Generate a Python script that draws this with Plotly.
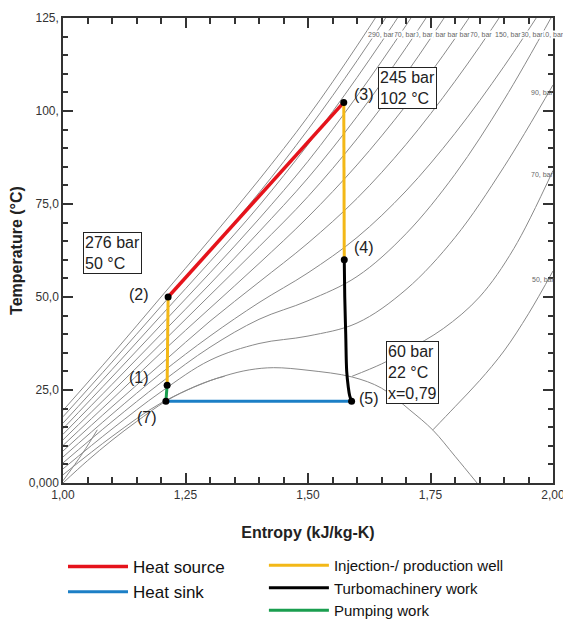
import plotly.graph_objects as go

# ---------------- data ----------------
# common entropy grid for supercritical isobars [kJ/kg-K]
s_grid = [1.0, 1.1, 1.2, 1.3, 1.4, 1.5, 1.6, 1.7, 1.8, 1.9, 2.0]
# temperatures [°C] of each isobar on that grid
T_290 = [19.5, 34.5, 50.0, 65.5, 81.5, 98.5, 117.5, 138, 160, 184, 210]
T_270 = [17.8, 32.5, 47.5, 62.5, 78.0, 95.0, 113.5, 133.5, 155, 178, 203]
T_250 = [16.1, 30.5, 45.0, 59.5, 74.5, 91.0, 109.0, 128.5, 149.5, 172, 196]
T_230 = [14.6, 28.5, 42.5, 56.5, 71.0, 86.5, 104.0, 123.0, 143.5, 165.5, 189]
T_210 = [13.1, 26.5, 40.0, 53.5, 67.5, 82.0, 98.5, 117.0, 137.0, 158.5, 181]
T_190 = [11.6, 24.5, 37.5, 50.5, 63.5, 77.0, 92.5, 110.0, 129.5, 150.5, 173]
T_170 = [10.1, 22.5, 35.0, 47.0, 59.0, 71.5, 85.5, 101.5, 119.5, 139.5, 161]
T_150 = [8.6, 20.5, 32.0, 43.5, 54.0, 64.5, 76.5, 91.0, 108.0, 127.0, 148]
T_130 = [7.0, 18.5, 29.5, 39.5, 48.5, 56.5, 66.0, 78.5, 94.0, 112.0, 132]
T_110 = [5.4, 16.5, 27.0, 36.5, 44.0, 49.0, 55.5, 67.0, 83.0, 103.0, 126]
T_90 = [3.8, 14.5, 24.5, 33.0, 37.5, 39.5, 43.0, 52.0, 66.0, 85.0, 107]

# subcritical isobars: liquid branch and vapour branch
s_70_liq = [1.0, 1.1, 1.2, 1.3, 1.33]
T_70_liq = [2.2, 12.5, 21.5, 27.5, 28.7]
s_70_vap = [1.59, 1.65, 1.70, 1.776, 1.85, 1.92, 2.0]
T_70_vap = [28.7, 32.0, 35.5, 41.5, 50.0, 63.0, 84.0]
s_50_liq = [1.0, 1.04, 1.07]
T_50_liq = [0.6, 8.0, 14.3]
s_50_vap = [1.755, 1.80, 1.85, 1.90, 1.95, 2.0]
T_50_vap = [14.3, 20.5, 27.5, 35.5, 45.5, 57.0]

# saturation dome
s_dome = [1.0, 1.05, 1.10, 1.15, 1.21, 1.27, 1.33, 1.38, 1.43, 1.50, 1.59, 1.65, 1.708, 1.755, 1.80, 1.845]
T_dome = [0.0, 6.0, 11.5, 16.5, 22.0, 26.0, 28.8, 30.4, 31.0, 30.3, 28.5, 25.5, 19.6, 14.2, 7.2, 0.0]

# cycle state points
s_pts = {"7": 1.210, "1": 1.2125, "2": 1.2145, "3": 1.573, "4": 1.574, "5": 1.589}
T_pts = {"7": 22.0, "1": 26.3, "2": 50.0, "3": 102.3, "4": 60.0, "5": 22.0}

# turbine expansion 4 -> 5
s_turb = [1.574, 1.575, 1.577, 1.579, 1.582, 1.585, 1.589]
T_turb = [60.0, 50.0, 40.0, 30.0, 26.0, 23.5, 22.0]

# isobar labels
top_labels = ["110, bar", "130, bar", "150, bar", "170, bar", "190, bar",
              "210, bar", "230, bar", "250, bar", "270, bar", "290, bar"]
top_label_s = [1.967, 1.925, 1.880, 1.820, 1.775, 1.752, 1.727, 1.700, 1.665, 1.620]
right_labels = ["90, bar", "70, bar", "50, bar"]
right_label_s = [1.952, 1.950, 1.954]
right_label_T = [105.0, 82.8, 54.6]

x_tickvals = [1.0, 1.25, 1.5, 1.75, 2.0]
x_ticktext = ["1,00", "1,25", "1,50", "1,75", "2,00"]
y_tickvals = [0, 25, 50, 75, 100, 125]
y_ticktext = ["0,000", "25,0", "50,0", "75,0", "100,", "125,"]

# ---------------- figure ----------------
fig = go.Figure()
GRAY = "#8a8a8a"
iso_list = [T_290, T_270, T_250, T_230, T_210, T_190, T_170, T_150, T_130, T_110, T_90]
for T in iso_list:
    fig.add_trace(go.Scatter(x=s_grid, y=T, mode="lines", line=dict(color=GRAY, width=1, shape="spline"),
                             showlegend=False, hoverinfo="skip"))
for sx, ty in [(s_70_liq, T_70_liq), (s_70_vap, T_70_vap), (s_50_liq, T_50_liq), (s_50_vap, T_50_vap), (s_dome, T_dome)]:
    fig.add_trace(go.Scatter(x=sx, y=ty, mode="lines", line=dict(color=GRAY, width=1, shape="spline"),
                             showlegend=False, hoverinfo="skip"))

def seg(a, b):
    return [s_pts[a], s_pts[b]], [T_pts[a], T_pts[b]]

RED, BLUE, YEL, GRN = "#e5131b", "#1c7fc6", "#f3b817", "#1a9e4f"
x, y = seg("2", "3")
fig.add_trace(go.Scatter(x=x, y=y, mode="lines", line=dict(color=RED, width=3.5), name="Heat source", legend="legend"))
x, y = seg("7", "5")
fig.add_trace(go.Scatter(x=x, y=y, mode="lines", line=dict(color=BLUE, width=3), name="Heat sink", legend="legend"))
x1, y1 = seg("1", "2")
x2, y2 = seg("3", "4")
fig.add_trace(go.Scatter(x=x1 + [None] + x2, y=y1 + [None] + y2, mode="lines", line=dict(color=YEL, width=3),
                         name="Injection-/ production well", legend="legend2"))
fig.add_trace(go.Scatter(x=s_turb, y=T_turb, mode="lines", line=dict(color="black", width=3, shape="spline"),
                         name="Turbomachinery work", legend="legend2"))
x, y = seg("7", "1")
fig.add_trace(go.Scatter(x=x, y=y, mode="lines", line=dict(color=GRN, width=3), name="Pumping work", legend="legend2"))
fig.add_trace(go.Scatter(x=list(s_pts.values()), y=list(T_pts.values()), mode="markers",
                         marker=dict(color="black", size=7), showlegend=False, hoverinfo="skip"))

# point labels
pt_text_pos = {"3": (1.614, 104.5), "2": (1.156, 50.7), "1": (1.156, 28.3), "7": (1.171, 17.5),
               "4": (1.614, 63.3), "5": (1.624, 22.6)}
for k, (xs, ys) in pt_text_pos.items():
    fig.add_annotation(x=xs, y=ys, text=f"({k})", showarrow=False, font=dict(size=16, color="#222"))

box_font = dict(size=16, color="#222")
for txt, xs, ys in [("245 bar<br>102 °C", 1.643, 111.8), ("276 bar<br>50 °C", 1.040, 67.5),
                    ("60 bar<br>22 °C<br>x=0,79", 1.659, 38.2)]:
    fig.add_annotation(x=xs, y=ys, text=txt, showarrow=False, xanchor="left", yanchor="top", align="left",
                       font=box_font, bgcolor="white", bordercolor="#222", borderwidth=1, borderpad=1)

for txt, xs in zip(top_labels, top_label_s):
    fig.add_annotation(x=xs, y=120.5, text=txt, showarrow=False, xanchor="left", font=dict(size=7, color="#666"),
                       bgcolor="white", borderpad=0)
for txt, xs, ys in zip(right_labels, right_label_s, right_label_T):
    fig.add_annotation(x=xs, y=ys, text=txt, showarrow=False, xanchor="left", font=dict(size=7, color="#666"))

axis_common = dict(showline=True, linecolor="#333", linewidth=1.5, mirror="allticks", ticks="inside",
                   tickcolor="#333", tickwidth=1.5, ticklen=10, showgrid=False, zeroline=False,
                   ticklabeloverflow="allow",
                   tickfont=dict(family="Liberation Sans, Arial", size=12, color="#333"))
title_font = dict(family="Liberation Sans, Arial", size=16, color="#222")
fig.update_xaxes(range=[1.0, 2.0], tickvals=x_tickvals, ticktext=x_ticktext,
                 minor=dict(dtick=0.05, ticks="inside", ticklen=6, tickcolor="#333", tickwidth=1.5),
                 title=dict(text="<b>Entropy (kJ/kg-K)</b>", font=title_font, standoff=26),
                 **axis_common)
fig.update_yaxes(range=[0, 125], tickvals=y_tickvals, ticktext=y_ticktext,
                 minor=dict(dtick=5, ticks="inside", ticklen=5, tickcolor="#333", tickwidth=1.5),
                 title=dict(text="<b>Temperature (°C)</b>", font=title_font, standoff=2),
                 **axis_common)

fig.update_layout(
    width=563, height=620,
    margin=dict(l=63, r=10, t=18, b=137, autoexpand=False),
    paper_bgcolor="white", plot_bgcolor="white",
    font=dict(family="Liberation Sans, Arial"),
    legend=dict(x=0.0, y=-0.142, xanchor="left", yanchor="top",
                font=dict(family="Liberation Sans, Arial", size=17, color="#111"),
                bgcolor="rgba(0,0,0,0)", itemwidth=60, tracegroupgap=0),
    legend2=dict(x=0.41, y=-0.142, xanchor="left", yanchor="top",
                 font=dict(family="Liberation Sans, Arial", size=15, color="#111"),
                 bgcolor="rgba(0,0,0,0)", itemwidth=60, tracegroupgap=0),
)
fig.write_html("out.html")
